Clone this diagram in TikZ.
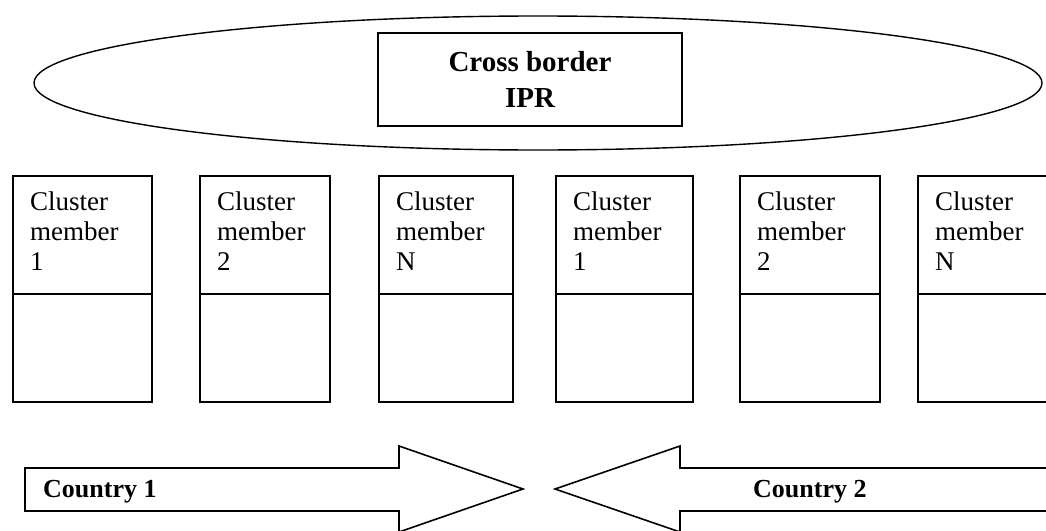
\documentclass[tikz,border=0pt]{standalone}
\usepackage{fontspec}
\setmainfont{Liberation Serif}
\usetikzlibrary{shapes.geometric}

\begin{document}
\begin{tikzpicture}[x=1pt,y=-1pt,
  outline/.style={draw=black, line width=1.6pt},
  memberbox/.style={outline, rectangle, inner sep=0pt, anchor=north west},
  memberlabel/.style={anchor=north west, inner sep=0pt, align=left,
    font=\fontsize{27}{30}\selectfont},
  countrylabel/.style={anchor=base west, inner sep=0pt,
    font=\bfseries\fontsize{26}{30}\selectfont},
  arrowshape/.style={outline, line join=miter, fill=white}]
  \useasboundingbox (0,0) rectangle (1046,530);
  \clip (0,0) rectangle (1046,530);

  % shared IPR zone
  \node[ellipse, draw=black, line width=1.4pt, minimum width=1008pt,
        minimum height=134pt, inner sep=0pt] (zone) at (538,83) {};
  \node[outline, rectangle, minimum width=304pt, minimum height=93pt,
        inner sep=0pt, align=center,
        font=\bfseries\fontsize{29}{36}\selectfont] (ipr) at (530,79.5)
        {Cross border\\IPR};

  % cluster members: upper cell with label, empty lower cell
  \foreach \name/\x/\w/\lab in {a/12/139/1, b/199/130/2, c/378/134/N,
                                 d/555/137/1, e/739/140/2, f/917/140/N}{
    \node[memberbox, minimum width=\w pt, minimum height=118pt]
      (\name-top) at (\x,175) {};
    \node[memberbox, minimum width=\w pt, minimum height=108pt]
      (\name-bot) at (\x,293) {};
    \node[memberlabel] (\name-lab) at ([xshift=18pt,yshift=-16.5pt]\name-top.north west)
      {Cluster\\member\\\lab};
  }

  % country arrows pointing at each other
  \draw[arrowshape] (25,468) -- (399,468) -- (399,446) -- (523,489)
    -- (399,532) -- (399,511) -- (25,511) -- cycle;
  \draw[arrowshape] (1060,468) -- (680,468) -- (680,446) -- (555,489)
    -- (680,532) -- (680,511) -- (1060,511) -- cycle;
  \node[countrylabel] (c1) at (43,497) {Country 1};
  \node[countrylabel] (c2) at (753,497) {Country 2};
\end{tikzpicture}
\end{document}
